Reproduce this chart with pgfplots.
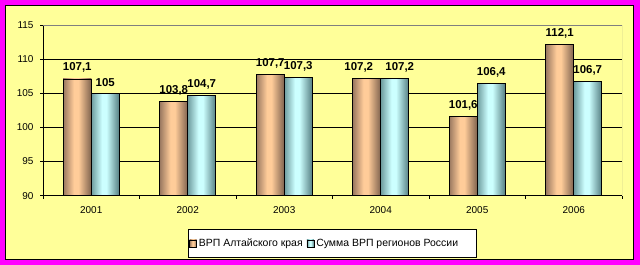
\documentclass[border=0pt]{standalone}
\usepackage{pgfplots}
\pgfplotsset{compat=1.18}
\usepackage{fontspec}
\setmainfont{Liberation Sans}
\definecolor{bgyellow}{HTML}{FFFF99}
\definecolor{magborder}{HTML}{FF00FF}
\definecolor{peachmid}{HTML}{FFCC99}
\definecolor{peachL}{HTML}{9A7860}
\definecolor{peachR}{HTML}{7E624E}
\definecolor{cyanmid}{HTML}{CCFFFF}
\definecolor{cyanL}{HTML}{6E9C9E}
\definecolor{cyanR}{HTML}{557F82}
\pgfdeclarehorizontalshading{peachbar}{100bp}{color(0bp)=(peachL); color(25bp)=(peachL); color(44bp)=(peachmid); color(52bp)=(peachmid); color(75bp)=(peachR); color(100bp)=(peachR)}
\pgfdeclarehorizontalshading{cyanbar}{100bp}{color(0bp)=(cyanL); color(25bp)=(cyanL); color(44bp)=(cyanmid); color(52bp)=(cyanmid); color(75bp)=(cyanR); color(100bp)=(cyanR)}
\pgfplotsset{
  bA/.style={draw=black, line width=0.8bp, shading=peachbar, bar shift=-14bp},
  bB/.style={draw=black, line width=0.8bp, shading=cyanbar, bar shift=14bp},
}
\begin{document}
\begin{tikzpicture}
\fill[magborder] (0,0) rectangle (640bp,265bp);
\fill[bgyellow] (5bp,5bp) rectangle (634bp,260bp);
\draw[black, line width=0.8bp] (5.4bp,5.4bp) rectangle (633.6bp,259.6bp);
\begin{axis}[
  at={(43bp,69.3bp)}, anchor=south west,
  scale only axis, width=579bp, height=170.7bp,
  xmin=-0.5, xmax=5.5, ymin=90, ymax=115,
  ytick={90,95,...,115},
  xtick={-0.5,0.5,...,5.5}, xticklabels={},
  extra x ticks={0,1,2,3,4,5},
  extra x tick labels={2001,2002,2003,2004,2005,2006},
  extra x tick style={major tick length=0pt},
  axis x line*=bottom, axis y line*=left,
  axis line style={black, line width=0.8bp},
  tick align=outside, major tick length=3bp,
  tick style={black, line width=0.8bp},
  ymajorgrids, grid style={black, line width=0.8bp},
  ticklabel style={font=\fontsize{10}{12}\selectfont},
  yticklabel style={xshift=-3bp},
  xticklabel style={yshift=-7bp},
  /pgf/number format/assume math mode=true,
  ybar=0pt, bar width=28bp,
  nodes near coords,
  nodes near coords style={font=\fontsize{11.5}{13}\selectfont\bfseries, black, yshift=2.5bp,
    /pgf/number format/fixed, /pgf/number format/use comma,
    /pgf/number format/precision=1, /pgf/number format/assume math mode=true},
  legend style={at={(0.2504,-0.3647)}, anchor=south west, draw=black, fill=white,
    font=\fontsize{10.5}{12}\selectfont, line width=0.8bp, inner xsep=1bp, inner ysep=7.5bp},
  legend columns=2,
  /tikz/every even column/.append style={column sep=2bp},
  legend image code/.code={\draw[#1, line width=0.6bp] (0bp,-3.5bp) rectangle (7bp,3.5bp);},
]
\addplot[bA] coordinates {(0,107.1)};
\addlegendentry{ВРП Алтайского края}
\addplot[bB] coordinates {(0,105)};
\addlegendentry{Сумма ВРП регионов России\rule{15bp}{0pt}}
\addplot[bA, forget plot] coordinates {(1,103.8)};
\addplot[bA, forget plot] coordinates {(2,107.7)};
\addplot[bA, forget plot, every node near coord/.append style={xshift=-8bp}] coordinates {(3,107.2)};
\addplot[bA, forget plot] coordinates {(4,101.6)};
\addplot[bA, forget plot] coordinates {(5,112.1)};
\addplot[bB, forget plot] coordinates {(1,104.7)};
\addplot[bB, forget plot] coordinates {(2,107.3)};
\addplot[bB, forget plot, every node near coord/.append style={xshift=5bp}] coordinates {(3,107.2)};
\addplot[bB, forget plot] coordinates {(4,106.4)};
\addplot[bB, forget plot] coordinates {(5,106.7)};
\draw[gray, line width=0.8bp] (rel axis cs:0,1) -- (rel axis cs:1,1) -- (rel axis cs:1,0);
\end{axis}
\pgfresetboundingbox
\path (0,0) rectangle (640bp,265bp);
\end{tikzpicture}
\end{document}
